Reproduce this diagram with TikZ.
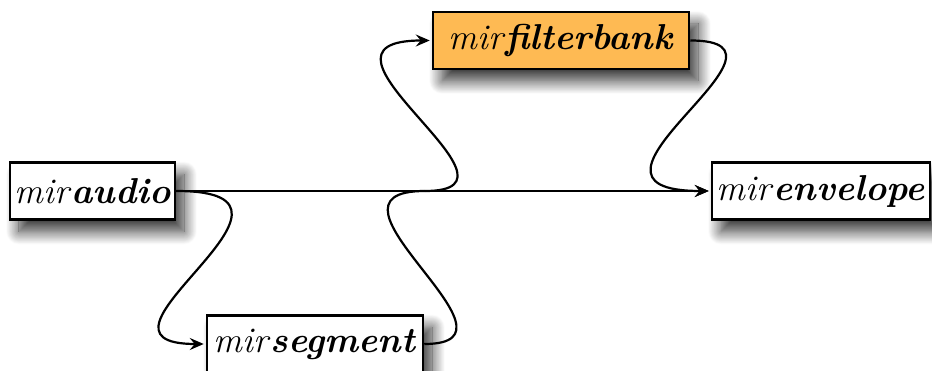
\documentclass[tikz,border=0pt]{standalone}
\usetikzlibrary{arrows.meta,shadows.blur}
\definecolor{fborange}{RGB}{254,186,83}
\begin{document}
\begin{tikzpicture}[x=1pt,y=-1pt,
  mirbox/.style={draw=black, line width=2.5pt, fill=white, inner sep=0pt,
    minimum height=57pt, font=\fontsize{36}{40}\selectfont,
    blur shadow={shadow xshift=9pt, shadow yshift=-12pt, shadow blur radius=13pt, shadow blur steps=16, shadow opacity=80}},
  conn/.style={line width=2.2pt, -{Stealth[length=14pt,width=12pt,inset=5pt]}, shorten >=2pt}]
\useasboundingbox (0,0) rectangle (932,371);
\node[mirbox, minimum width=165pt] (a) at (92.5,191) {\textit{mir}\textbf{\textit{audio}}};
\node[mirbox, minimum width=256pt, fill=fborange] (f) at (561,40.5) {\textit{mir}\textbf{\textit{filterbank}}};
\node[mirbox, minimum width=218pt] (e) at (821,191) {\textit{mir}\textbf{\textit{envelope}}};
\node[mirbox, minimum width=216pt] (s) at (315,344) {\textit{mir}\textbf{\textit{segment}}};
\coordinate (m) at (425,191);
\draw[conn] (a.east) -- (e.west);
\draw[conn] (a.east) .. controls +(169,0) and +(-144,0) .. (s.west);
\draw[line width=2.2pt] (s.east) .. controls +(115,0) and +(-125,0) .. (m);
\draw[conn] (m) .. controls +(120,0) and +(-147,0) .. (f.west);
\draw[conn] (f.east) .. controls +(130,0) and +(-168,0) .. (e.west);
\end{tikzpicture}
\end{document}
